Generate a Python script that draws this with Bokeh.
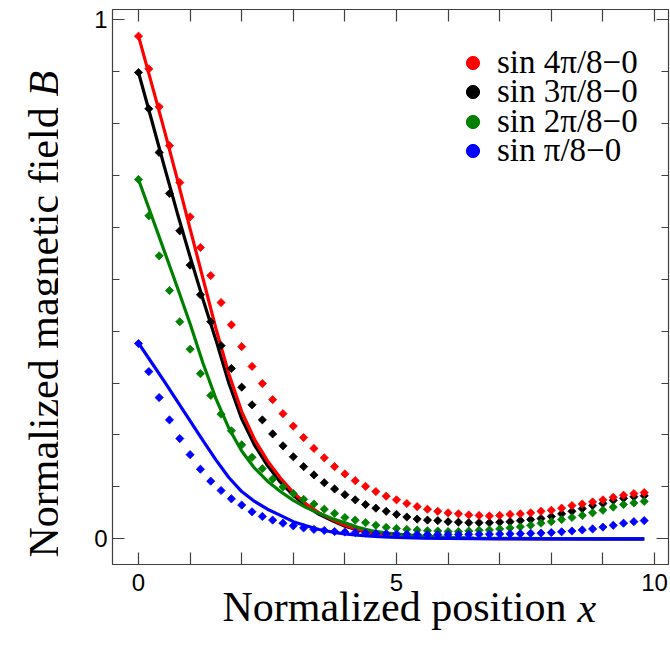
from math import pi
import numpy as np
from bokeh.plotting import figure
from bokeh.layouts import row
from bokeh.models import (Range1d, FixedTicker, LinearAxis, Legend,
                          LegendItem, ColumnDataSource)
from bokeh.core.properties import value
from bokeh.embed import file_html
from bokeh.resources import INLINE

# ---------------- data ----------------
x_dots = [0.0, 0.2, 0.4, 0.6, 0.8, 1.0, 1.2, 1.4, 1.6, 1.8,
          2.0, 2.2, 2.4, 2.6, 2.8, 3.0, 3.2, 3.4, 3.6, 3.8,
          4.0, 4.2, 4.4, 4.6, 4.8, 5.0, 5.2, 5.4, 5.6, 5.8,
          6.0, 6.2, 6.4, 6.6, 6.8, 7.0, 7.2, 7.4, 7.6, 7.8,
          8.0, 8.2, 8.4, 8.6, 8.8, 9.0, 9.2, 9.4, 9.6, 9.8]

red_dots = [0.968, 0.905, 0.832, 0.757, 0.686, 0.620, 0.561, 0.507, 0.455, 0.412,
            0.370, 0.332, 0.299, 0.268, 0.241, 0.217, 0.195, 0.174, 0.156, 0.139,
            0.125, 0.112, 0.101, 0.091, 0.082, 0.075, 0.068, 0.062, 0.057, 0.053,
            0.050, 0.048, 0.046, 0.045, 0.044, 0.045, 0.047, 0.048, 0.050, 0.053,
            0.055, 0.059, 0.064, 0.067, 0.071, 0.075, 0.080, 0.084, 0.087, 0.089]

black_dots = [0.898, 0.828, 0.744, 0.665, 0.593, 0.527, 0.470, 0.418, 0.372, 0.328,
              0.292, 0.258, 0.229, 0.202, 0.179, 0.158, 0.139, 0.123, 0.108, 0.096,
              0.085, 0.075, 0.066, 0.059, 0.053, 0.047, 0.042, 0.038, 0.036, 0.035,
              0.033, 0.032, 0.031, 0.031, 0.031, 0.032, 0.033, 0.035, 0.037, 0.039,
              0.043, 0.048, 0.053, 0.058, 0.064, 0.068, 0.074, 0.078, 0.081, 0.083]

green_dots = [0.692, 0.622, 0.545, 0.478, 0.418, 0.365, 0.318, 0.276, 0.240, 0.208,
              0.181, 0.157, 0.135, 0.115, 0.100, 0.087, 0.076, 0.067, 0.057, 0.049,
              0.041, 0.036, 0.031, 0.026, 0.022, 0.020, 0.018, 0.017, 0.0155, 0.015,
              0.014, 0.014, 0.015, 0.0165, 0.017, 0.019, 0.021, 0.023, 0.026, 0.030,
              0.033, 0.037, 0.041, 0.045, 0.050, 0.055, 0.061, 0.066, 0.069, 0.072]

blue_dots = [0.376, 0.322, 0.272, 0.229, 0.193, 0.162, 0.134, 0.111, 0.093, 0.077,
             0.065, 0.052, 0.043, 0.036, 0.030, 0.025, 0.021, 0.018, 0.016, 0.014,
             0.013, 0.012, 0.011, 0.010, 0.0095, 0.009, 0.0087, 0.0085, 0.0083, 0.0082,
             0.0082, 0.0083, 0.0085, 0.0087, 0.0089, 0.0092, 0.0095, 0.0098, 0.0105, 0.011,
             0.012, 0.0135, 0.015, 0.017, 0.019, 0.0225, 0.026, 0.030, 0.033, 0.035]

x_line = [0.0, 0.25, 0.5, 0.75, 1.0, 1.25, 1.5, 1.75, 2.0, 2.25,
          2.5, 2.75, 3.0, 3.25, 3.5, 3.75, 4.0, 4.25, 4.5, 4.75,
          5.0, 5.5, 6.0, 6.5, 7.0, 8.0, 9.0, 9.8]

red_line = [0.968, 0.878, 0.787, 0.693, 0.597, 0.501, 0.405, 0.318, 0.245, 0.191,
            0.150, 0.117, 0.089, 0.067, 0.050, 0.037, 0.026, 0.018, 0.012, 0.008,
            0.0055, 0.003, 0.0015, 0.0008, 0.0004, 0.0001, 0.0, 0.0]

black_line = [0.898, 0.808, 0.717, 0.628, 0.543, 0.461, 0.383, 0.300, 0.231, 0.180,
              0.141, 0.109, 0.084, 0.063, 0.047, 0.035, 0.024, 0.017, 0.011, 0.0075,
              0.005, 0.0025, 0.0012, 0.0006, 0.0003, 0.0001, 0.0, 0.0]

green_line = [0.692, 0.623, 0.554, 0.485, 0.414, 0.338, 0.270, 0.213, 0.169, 0.136,
              0.111, 0.091, 0.074, 0.060, 0.049, 0.039, 0.031, 0.022, 0.016, 0.012,
              0.009, 0.005, 0.003, 0.0015, 0.0008, 0.0002, 0.0, 0.0]

blue_line = [0.377, 0.340, 0.303, 0.265, 0.227, 0.189, 0.152, 0.118, 0.091, 0.072,
             0.057, 0.045, 0.033, 0.025, 0.018, 0.013, 0.0095, 0.007, 0.005, 0.0035,
             0.0025, 0.0012, 0.0006, 0.0003, 0.0001, 0.0, 0.0, 0.0]

series_labels = ["sin 4π/8−0", "sin 3π/8−0", "sin 2π/8−0", "sin π/8−0"]
series_colors = ["#ff0000", "#000000", "#008000", "#0000ff"]

x_major_ticks = [0, 1, 2, 3, 4, 5, 6, 7, 8, 9, 10]
x_tick_labels = {0: "0", 5: "5", 10: "10"}
y_major_ticks = [0, 1]
y_minor_ticks = [0.1, 0.2, 0.3, 0.4, 0.5, 0.6, 0.7, 0.8, 0.9]

# axis titles: upright part + italic symbol; x title parts are centred at these x values
x_title_parts = ["Normalized position", "x"]
x_title_centers = [4.96, 8.69]
y_title_parts = ["Normalized magnetic field", "B"]

TITLE_FONT = "Liberation Serif"
TITLE_SIZE = "42px"
LEFT_W, TOTAL_H = 58, 653
FRAME_TOP, FRAME_BOTTOM = 9, 564   # page rows of the plotting frame

# ---------------- main figure ----------------
p = figure(frame_width=556, frame_height=FRAME_BOTTOM - FRAME_TOP,
           x_range=Range1d(-0.504, 10.271), y_range=Range1d(-0.0495, 1.0193),
           output_backend="svg", toolbar_location=None,
           min_border_left=54, min_border_right=2, min_border_top=FRAME_TOP,
           min_border_bottom=TOTAL_H - FRAME_BOTTOM)
p.grid.visible = False
p.outline_line_color = "#404040"
p.background_fill_color = "white"
p.border_fill_color = "white"

AX = "#404040"
xax = p.xaxis[0]
xax.ticker = FixedTicker(ticks=x_major_ticks, minor_ticks=[])
xax.major_label_overrides = {t: x_tick_labels.get(t, "") for t in x_major_ticks}
yax = p.yaxis[0]
yax.ticker = FixedTicker(ticks=y_major_ticks, minor_ticks=y_minor_ticks)

top = LinearAxis(ticker=FixedTicker(ticks=x_major_ticks, minor_ticks=[]))
right = LinearAxis(ticker=FixedTicker(ticks=y_major_ticks, minor_ticks=y_minor_ticks))
top.major_label_overrides = {t: "" for t in x_major_ticks}
right.major_label_overrides = {t: "" for t in y_major_ticks}
for ax in (top, right):
    ax.major_label_text_font_size = "0px"
    ax.major_label_standoff = 0
p.add_layout(top, "above")
p.add_layout(right, "right")

for ax in (xax, yax, top, right):
    ax.axis_line_color = AX
    ax.axis_line_width = 1.2
    ax.major_tick_line_color = AX
    ax.minor_tick_line_color = AX
    ax.major_tick_line_width = 1.2
    ax.minor_tick_line_width = 1.2
    ax.major_tick_in = 12
    ax.major_tick_out = 0
    ax.minor_tick_in = 7
    ax.minor_tick_out = 0

for ax in (xax, yax):
    ax.major_label_text_font = "Liberation Sans"
    ax.major_label_text_font_size = "24px"
    ax.major_label_text_color = "black"
xax.major_label_standoff = 9
yax.major_label_standoff = 5

# x title: two tick-label-only axes below the main x axis (upright text, italic symbol)
title_standoffs = [-10, -48]
title_styles = ["normal", "italic"]
for txt, xc, so, st in zip(x_title_parts, x_title_centers, title_standoffs, title_styles):
    ta = LinearAxis(ticker=FixedTicker(ticks=[xc], minor_ticks=[]))
    ta.major_label_overrides = {xc: txt}
    ta.major_label_text_font = TITLE_FONT
    ta.major_label_text_font_size = TITLE_SIZE
    ta.major_label_text_font_style = st
    ta.major_label_text_color = "black"
    ta.major_label_standoff = so
    ta.axis_line_color = None
    ta.major_tick_line_color = None
    ta.minor_tick_line_color = None
    ta.major_tick_in = 0
    ta.major_tick_out = 0
    ta.minor_tick_in = 0
    ta.minor_tick_out = 0
    p.add_layout(ta, "below")

line_sets = [red_line, black_line, green_line, blue_line]
dot_sets = [red_dots, black_dots, green_dots, blue_dots]

draw_order = [1, 0, 2, 3]
for i in draw_order:
    src = ColumnDataSource(dict(x=x_line, y=line_sets[i]))
    p.line("x", "y", source=src, line_color=series_colors[i], line_width=3.2)

for i in draw_order:
    src = ColumnDataSource(dict(x=x_dots, y=dot_sets[i]))
    p.scatter("x", "y", source=src, marker="square", angle=pi / 4, size=5.8,
              fill_color=series_colors[i], line_color=series_colors[i], line_width=0.8)

# legend: one single-item legend per row so the row pitch matches the reference
legend_bottoms = [483, 453.7, 424.3, 395]
for lab, col, yb in zip(series_labels, series_colors, legend_bottoms):
    src = ColumnDataSource(dict(x=np.array([np.nan]), y=np.array([np.nan])))
    r = p.scatter("x", "y", source=src, marker="circle", size=13,
                  fill_color=col, line_color=col)
    lg = Legend(items=[LegendItem(label=lab, renderers=[r])], location=(344, yb),
                padding=0, margin=0, border_line_alpha=0, background_fill_alpha=0,
                label_text_font="Liberation Serif", label_text_font_size="33px",
                label_text_color="black", glyph_width=33, glyph_height=33,
                label_height=29, label_standoff=8, spacing=0)
    p.add_layout(lg)

# ---------------- left strip: y-axis title, reading upward ----------------
# its frame is aligned by the row layout with the main frame (page rows 9..564),
# so the range is chosen to make strip y = TOTAL_H - page row
lf = figure(width=LEFT_W, height=TOTAL_H, x_range=Range1d(0, LEFT_W),
            y_range=Range1d(TOTAL_H - FRAME_BOTTOM, TOTAL_H - FRAME_TOP),
            output_backend="svg",
            toolbar_location=None, x_axis_location=None, y_axis_location=None,
            min_border=0, min_border_left=0, min_border_right=0,
            min_border_top=0, min_border_bottom=0)
lf.grid.visible = False
lf.outline_line_color = None
lf.background_fill_color = "white"
lf.border_fill_color = "white"
lf.text(x=[43], y=[TOTAL_H - 557], text=[y_title_parts[0]], angle=pi / 2,
        text_font=value(TITLE_FONT), text_font_size=TITLE_SIZE,
        text_align="left", text_baseline="alphabetic", text_color="black")
lf.text(x=[43], y=[TOTAL_H - 96], text=[y_title_parts[1]], angle=pi / 2,
        text_font=value(TITLE_FONT), text_font_size=TITLE_SIZE, text_font_style="italic",
        text_align="left", text_baseline="alphabetic", text_color="black")

layout = row(lf, p, spacing=0)

open("out.html", "w").write(file_html(layout, INLINE))
